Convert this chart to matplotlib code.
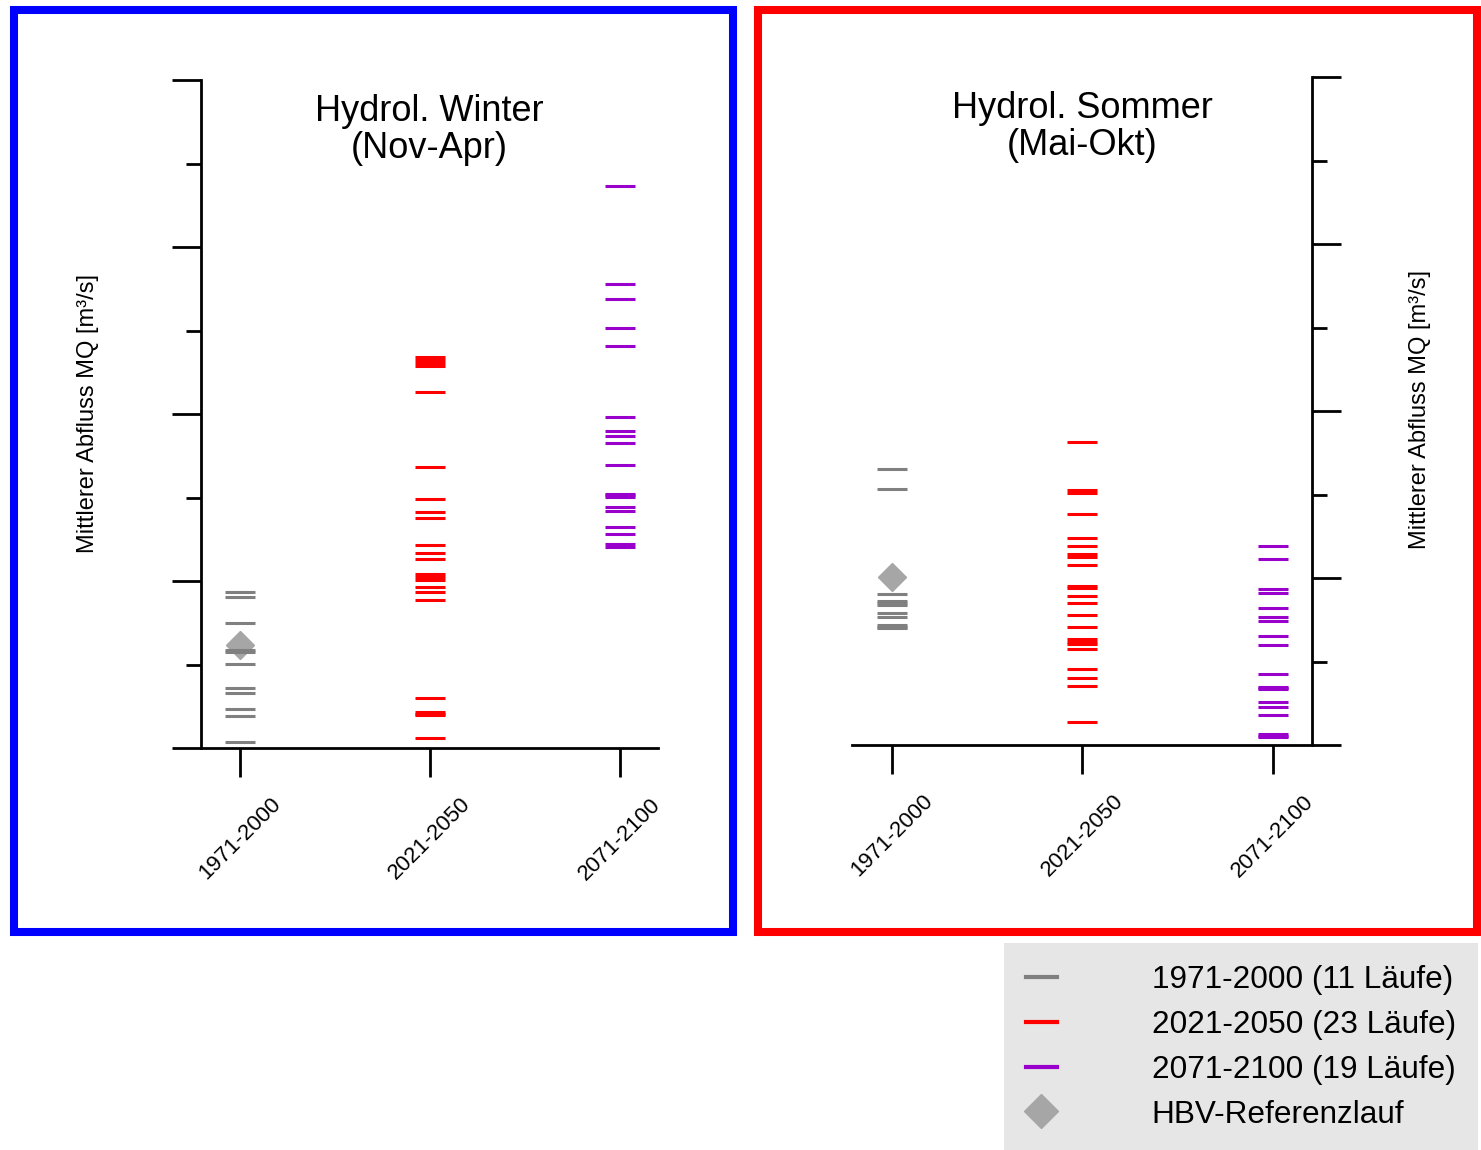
import matplotlib
matplotlib.use("Agg")
import matplotlib.pyplot as plt
import numpy as np
from matplotlib.lines import Line2D
from matplotlib.patches import Rectangle
from matplotlib.ticker import MultipleLocator

plt.rcParams.update({
    "font.family": ["Liberation Sans", "DejaVu Sans"],
    "font.size": 15,
})

# ---- data (unitless MQ) ----
periods = ["1971-2000", "2021-2050", "2071-2100"]
legend_labels = ["1971-2000 (11 Läufe)", "2021-2050 (23 Läufe)",
                 "2071-2100 (19 Läufe)", "HBV-Referenzlauf"]
colors = ["#808080", "#ff0000", "#9900cc"]

winter_1971 = [1.868, 1.808, 1.497, 1.174, 1.150, 1.006, 0.719, 0.659, 0.467, 0.383, 0.072]
winter_2021 = [4.683, 4.647, 4.611, 4.575, 4.263, 3.365, 2.982, 2.826, 2.754, 2.431,
               2.335, 2.263, 2.084, 2.048, 2.012, 1.928, 1.868, 1.772, 0.599, 0.431,
               0.407, 0.395, 0.120]
winter_2071 = [6.731, 5.557, 5.377, 5.030, 4.814, 3.964, 3.796, 3.737, 3.653, 3.389,
               3.042, 3.024, 3.006, 2.886, 2.838, 2.647, 2.563, 2.443, 2.407]
winter_hbv = 1.234

sommer_1971 = [3.305, 3.066, 1.808, 1.725, 1.701, 1.677, 1.581, 1.533, 1.437, 1.413, 1.401]
sommer_2021 = [3.629, 3.054, 3.018, 2.766, 2.479, 2.383, 2.287, 2.251, 2.156, 1.904,
               1.880, 1.784, 1.701, 1.557, 1.413, 1.269, 1.234, 1.210, 1.150, 0.910,
               0.802, 0.707, 0.275]
sommer_2071 = [2.383, 2.228, 1.868, 1.820, 1.641, 1.533, 1.485, 1.305, 1.198, 0.850,
               0.695, 0.683, 0.671, 0.515, 0.455, 0.359, 0.132, 0.108, 0.096]
sommer_hbv = 2.012

W, H = 1481, 1150
fig = plt.figure(figsize=(W / 100, H / 100), dpi=100, facecolor="white")


def fx(px):
    return px / W


def fy(py):
    return 1 - py / H


def draw_panel(ax, runs, hbv, title, side):
    ax.plot([0], [hbv], linestyle="none", marker="D", ms=14, color="#a6a6a6",
            mec="#a6a6a6", zorder=2)
    for i, vals in enumerate(runs):
        ax.plot(np.full(len(vals), i), vals, linestyle="none", marker="_",
                ms=21, mew=2.2, color=colors[i], zorder=3)
    ax.set_ylim(0, 8)
    ax.set_facecolor("none")
    for s in ["top", "left", "right"]:
        ax.spines[s].set_visible(False)
    ax.spines[side].set_visible(True)
    for s in ["bottom", side]:
        ax.spines[s].set_linewidth(2.0)
    ax.yaxis.set_major_locator(MultipleLocator(2))
    ax.yaxis.set_minor_locator(MultipleLocator(1))
    if side == "right":
        ax.yaxis.tick_right()
    ax.tick_params(axis="y", which="major", length=21, width=2.0, labelleft=False, labelright=False)
    ax.tick_params(axis="y", which="minor", length=11, width=2.0)
    ax.set_xticks(range(len(periods)))
    ax.set_xticklabels(periods, rotation=45, ha="center")
    ax.tick_params(axis="x", length=21, width=2.0, pad=12, labelsize=16)
    ax.text(0.5, 0.925, title, transform=ax.transAxes, ha="center", va="center",
            fontsize=26, linespacing=1.1,
            bbox=dict(facecolor="white", edgecolor="none", pad=2))


ax1 = fig.add_axes([fx(201), fy(748), fx(658) - fx(201), fy(80) - fy(748)])
ax1.set_xlim(-0.2053, 2.2)
draw_panel(ax1, [winter_1971, winter_2021, winter_2071], winter_hbv,
           "Hydrol. Winter\n(Nov-Apr)", "left")

ax2 = fig.add_axes([fx(852), fy(745), fx(1312) - fx(852), fy(77) - fy(745)])
ax2.set_xlim(-0.21, 2.205)
draw_panel(ax2, [sommer_1971, sommer_2021, sommer_2071], sommer_hbv,
           "Hydrol. Sommer\n(Mai-Okt)", "right")

ylab = "Mittlerer Abfluss MQ [m³/s]"
fig.text(fx(88), fy(413), ylab, rotation=90, ha="center", va="center", fontsize=17)
fig.text(fx(1420), fy(410), ylab, rotation=90, ha="center", va="center", fontsize=17)

# panel frames
fig.patches.append(Rectangle((fx(13.5), fy(931.5)), fx(733) - fx(13.5), fy(10) - fy(931.5),
                             transform=fig.transFigure, fill=False, ec="#0000ff", lw=5.8))
fig.patches.append(Rectangle((fx(758), fy(931.5)), fx(1477) - fx(758), fy(10) - fy(931.5),
                             transform=fig.transFigure, fill=False, ec="#ff0000", lw=5.8))

handles = [Line2D([], [], color=c, lw=3) for c in colors]
handles.append(Line2D([], [], linestyle="none", marker="D", ms=17, color="#a6a6a6"))
leg = fig.legend(handles, legend_labels, loc="upper right",
                 bbox_to_anchor=(fx(1478), fy(943)), borderaxespad=0,
                 fontsize=22.7, handlelength=1.0, handletextpad=3.0,
                 borderpad=0.7, labelspacing=0.47, fancybox=False,
                 frameon=True, framealpha=1)
leg.get_frame().set_facecolor("#e6e6e6")
leg.get_frame().set_edgecolor("none")

fig.savefig("out.png", dpi=100, facecolor="white")
